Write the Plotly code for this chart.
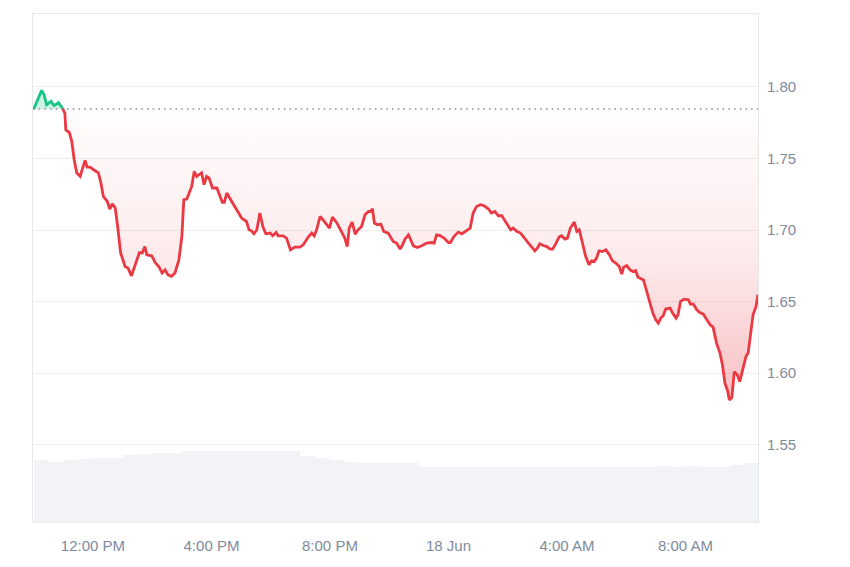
import numpy as np
import pandas as pd
import plotly.graph_objects as go

# ---- data ----
# minutes after 2024-06-17 00:00
minutes = [
    600, 616, 621, 626, 635, 641, 650, 658, 663, 665, 672, 677, 682, 687, 694,
    697, 704, 708, 714, 722, 731, 736, 741, 749, 754, 759, 765, 770, 776, 785,
    791, 798, 805, 814, 820, 825, 829, 839, 846, 854, 860, 866, 872, 879, 886,
    894, 900,
    904, 910, 920, 925, 930, 935, 940, 945, 950, 955, 962, 971, 975, 982, 986,
    991, 1001, 1011, 1021, 1031, 1036, 1041, 1046, 1052, 1058, 1064, 1070, 1079,
    1084, 1091, 1095, 1105, 1112, 1120, 1129, 1139, 1146, 1156, 1163, 1168, 1173,
    1180, 1186, 1199, 1205,
    1214, 1224, 1230, 1235, 1239, 1245, 1251, 1257, 1264, 1271, 1278, 1282, 1286,
    1290, 1296, 1303, 1309, 1318, 1328, 1335, 1342, 1347, 1352, 1359, 1364, 1369,
    1377, 1386, 1396, 1406, 1411, 1416, 1423, 1431, 1440, 1444, 1451, 1460, 1467,
    1473, 1484, 1490, 1497, 1505,
    1512, 1521, 1527, 1534, 1541, 1548, 1554, 1561, 1566, 1571, 1579, 1586, 1595,
    1602, 1608, 1615, 1620, 1625, 1632, 1639, 1646, 1651, 1658, 1664, 1669, 1676,
    1681, 1687, 1695, 1700, 1705, 1712, 1718, 1725, 1730, 1735, 1740, 1745, 1752,
    1759, 1766, 1772, 1779, 1786, 1791, 1795, 1801, 1808, 1814, 1819,
    1824, 1835, 1841, 1848, 1854, 1860, 1865, 1870, 1875, 1880, 1889, 1894, 1901,
    1905, 1910, 1917, 1926, 1930, 1936, 1943, 1949, 1956, 1963, 1970, 1976, 1983,
    1990, 1995, 2000, 2005, 2009, 2014, 2019, 2025, 2030, 2037, 2043, 2047, 2052,
    2057, 2063, 2067,
]
prices = [
    1.7846, 1.7976, 1.7946, 1.7876, 1.7900, 1.7870, 1.7890, 1.7853, 1.7818, 1.7700,
    1.7683, 1.7620, 1.7490, 1.7400, 1.7375, 1.7410, 1.7487, 1.7440, 1.7440, 1.7420,
    1.7400, 1.7330, 1.7235, 1.7200, 1.7147, 1.7184, 1.7154, 1.7025, 1.6840, 1.6746,
    1.6734, 1.6680, 1.6757, 1.6843, 1.6840, 1.6885, 1.6827, 1.6820, 1.6773, 1.6741,
    1.6700, 1.6722, 1.6687, 1.6676, 1.6700, 1.6792, 1.6955,
    1.7212, 1.7217, 1.7305, 1.7410, 1.7375, 1.7387, 1.7400, 1.7317, 1.7375, 1.7364,
    1.7294, 1.7294, 1.7259, 1.7193, 1.7193, 1.7259, 1.7200, 1.7142, 1.7084, 1.7060,
    1.7002, 1.6995, 1.6974, 1.7002, 1.7119, 1.7025, 1.6974, 1.6979, 1.6960, 1.6983,
    1.6960, 1.6960, 1.6944, 1.6862, 1.6881, 1.6881, 1.6897, 1.6951, 1.6979, 1.6960,
    1.7002, 1.7095, 1.7072, 1.7014, 1.7090,
    1.7050, 1.6990, 1.6944, 1.6885, 1.7014, 1.7056, 1.6972, 1.7002, 1.7025, 1.7107,
    1.7130, 1.7130, 1.7149, 1.7049, 1.7037, 1.7042, 1.6990, 1.6979, 1.6920, 1.6909,
    1.6867, 1.6897, 1.6937, 1.6967, 1.6932, 1.6890, 1.6878, 1.6890, 1.6909, 1.6913,
    1.6909, 1.6967, 1.6962, 1.6944, 1.6913, 1.6913, 1.6955, 1.6986, 1.6974, 1.6990,
    1.7014, 1.7119, 1.7165, 1.7177,
    1.7170, 1.7147, 1.7119, 1.7130, 1.7100, 1.7100, 1.7067, 1.7037, 1.7002, 1.7014,
    1.6990, 1.6979, 1.6944, 1.6909, 1.6885, 1.6855, 1.6874, 1.6904, 1.6892, 1.6885,
    1.6867, 1.6867, 1.6909, 1.6951, 1.6960, 1.6937, 1.6944, 1.7014, 1.7056, 1.6990,
    1.7002, 1.6909, 1.6815, 1.6757, 1.6785, 1.6780, 1.6804, 1.6855, 1.6850, 1.6862,
    1.6827, 1.6785, 1.6769, 1.6745, 1.6692, 1.6741, 1.6752, 1.6722, 1.6710, 1.6717,
    1.6671, 1.6652, 1.6583, 1.6501, 1.6420, 1.6373, 1.6350, 1.6385, 1.6401, 1.6448,
    1.6455, 1.6420, 1.6385, 1.6408, 1.6501, 1.6517, 1.6513, 1.6483, 1.6483, 1.6443,
    1.6424, 1.6413, 1.6373, 1.6338, 1.6322, 1.6210, 1.6140, 1.6058, 1.5930, 1.5883,
    1.5813, 1.5829, 1.6011, 1.5988, 1.5941, 1.6046, 1.6121, 1.6140, 1.6291, 1.6408,
    1.6466, 1.6548,
]
assert len(minutes) == len(prices), (len(minutes), len(prices))

# 30-minute volume blocks (millions USD), starting at 10:00
vol_start_minutes = list(range(600, 2041, 30))
volumes = [
    122, 118, 122, 124, 126, 126, 132, 134, 136, 136,
    140, 140, 140, 140, 140, 140, 140, 140, 130, 126,
    122, 118, 116, 116, 116, 116, 108, 108, 108, 108,
    108, 108, 108, 108, 108, 108, 108, 108, 108, 108,
    108, 108, 111, 108, 110, 108, 108, 112, 116,
]
assert len(vol_start_minutes) == len(volumes)

tick_minutes = [720, 960, 1200, 1440, 1680, 1920]
tick_labels = ["12:00 PM", "4:00 PM", "8:00 PM", "18 Jun", "4:00 AM", "8:00 AM"]
y_ticks = [1.55, 1.60, 1.65, 1.70, 1.75, 1.80]
y_tick_labels = ["1.55", "1.60", "1.65", "1.70", "1.75", "1.80"]

# ---- build ----
day0 = pd.Timestamp("2024-06-17")
t = day0 + pd.to_timedelta(minutes, unit="m")
p = np.array(prices)
base = prices[0]
vt = day0 + pd.to_timedelta(np.array(vol_start_minutes) + 15, unit="m")
ticks_t = day0 + pd.to_timedelta(tick_minutes, unit="m")
x_range = [day0 + pd.Timedelta(minutes=598.5), day0 + pd.Timedelta(minutes=2067)]

RED = "#ea3943"
GREEN = "#16c784"
GREY_TXT = "#808a9d"

fig = go.Figure()
base_arr = [base] * len(p)
fig.add_trace(go.Scatter(x=t, y=base_arr, mode="lines", line=dict(width=0),
                         hoverinfo="skip", showlegend=False))
fig.add_trace(go.Scatter(
    x=t, y=np.minimum(p, base), mode="lines", line=dict(width=0),
    fill="tonexty",
    fillgradient=dict(type="vertical",
                      colorscale=[[0, "rgba(234,57,67,0.32)"],
                                  [0.5, "rgba(234,57,67,0.10)"],
                                  [1, "rgba(234,57,67,0.01)"]],
                      start=1.58, stop=base),
    hoverinfo="skip", showlegend=False))
fig.add_trace(go.Scatter(x=t, y=base_arr, mode="lines", line=dict(width=0),
                         hoverinfo="skip", showlegend=False))
fig.add_trace(go.Scatter(x=t, y=np.maximum(p, base), mode="lines", line=dict(width=0),
                         fill="tonexty", fillcolor="rgba(22,199,132,0.22)",
                         hoverinfo="skip", showlegend=False))
fig.add_trace(go.Scatter(x=t[:8], y=p[:8], mode="lines",
                         line=dict(color=GREEN, width=2.8), showlegend=False))
fig.add_trace(go.Scatter(x=t[7:], y=p[7:], mode="lines",
                         line=dict(color=RED, width=2.8), showlegend=False))
fig.add_trace(go.Bar(x=vt, y=volumes, yaxis="y2", width=30 * 60 * 1000,
                     marker=dict(color="#f1f3f6", line=dict(width=0)),
                     showlegend=False))

fig.add_shape(type="line", xref="paper", yref="y", x0=0, x1=1, y0=base, y1=base,
              line=dict(color="#8c8c8c", width=1.5, dash="1.5px,4.2px"))

fig.update_layout(
    width=850, height=567,
    margin=dict(l=25, r=100, t=6, b=53),
    paper_bgcolor="white", plot_bgcolor="white",
    font=dict(family="Liberation Sans, Arial, sans-serif", size=15, color=GREY_TXT),
    bargap=0,
    xaxis=dict(range=x_range, tickvals=ticks_t, ticktext=tick_labels,
               showgrid=False, zeroline=False, showline=True, mirror=True,
               linecolor="#e8e8e8", linewidth=1,
               ticks="outside", ticklen=10, tickcolor="rgba(0,0,0,0)",
               tickfont=dict(size=15, color=GREY_TXT)),
    yaxis=dict(range=[1.496, 1.851], side="right", tickvals=y_ticks,
               ticktext=y_tick_labels, showgrid=True, gridcolor="#efefef",
               gridwidth=1, zeroline=False, showline=True, mirror=True,
               linecolor="#e8e8e8", linewidth=1,
               ticks="outside", ticklen=5, tickcolor="rgba(0,0,0,0)",
               tickfont=dict(size=15, color=GREY_TXT)),
    yaxis2=dict(range=[0, 1000], overlaying="y", side="left", visible=False,
                showgrid=False),
)

fig.write_html("out.html")
